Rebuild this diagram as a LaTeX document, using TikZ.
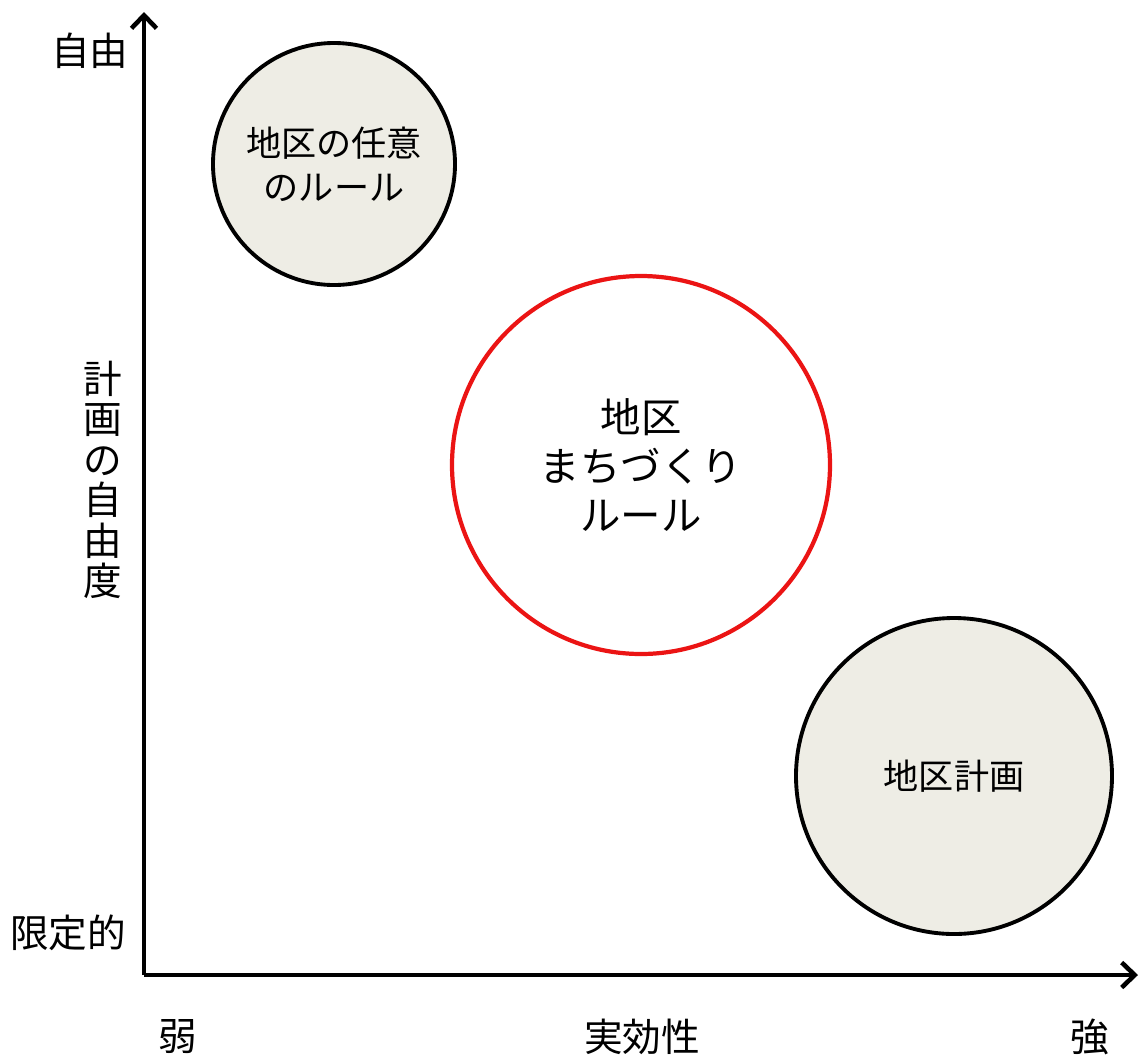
\documentclass[tikz,border=0pt]{standalone}
\usepackage{fontspec}
\setmainfont{Noto Sans CJK JP}
\usetikzlibrary{arrows.meta}
\begin{document}
\begin{tikzpicture}[x=0.02cm, y=-0.02cm, thick]

  % Define Colors
  \definecolor{paper}{RGB}{238,237,229}
  \definecolor{rulered}{RGB}{235,20,20}

  % Node styles
  \tikzstyle{cgray}=[circle, draw, line width=2.2pt, fill=paper, align=center, font=\fontsize{20}{25}\selectfont]
  \tikzstyle{cred}=[circle, draw=rulered, line width=2.4pt, align=center, font=\fontsize{23}{28}\selectfont]
  \tikzstyle{lbl}=[inner sep=0pt, font=\fontsize{22}{23}\selectfont]
  \tikzstyle{axis}=[line width=2.8pt, -{Straight Barb[length=2.6mm, width=5mm, line width=2.6pt]}]

  \useasboundingbox (0,0) rectangle (1140,1056);

  % Axes
  \coordinate (origin) at (144,975);
  \coordinate (y_top) at (144,12);
  \coordinate (x_end) at (1138,975);
  \draw[axis] (origin) -- (y_top);
  \draw[axis] (origin) -- (x_end);

  % Circles
  \node[cgray, minimum size=242*0.02cm] (c_free) at (334,164) {地区の任意\\のルール};
  \node[cred, minimum size=378*0.02cm] (c_rule) at (641,465) {地区\\まちづくり\\ルール};
  \node[cgray, minimum size=316*0.02cm] (c_plan) at (954,776) {地区計画};

  % Axis labels
  \node[lbl] (l_free) at (90,51) {自由};
  \node[lbl] (l_limit) at (68,933) {限定的};
  \node[lbl, align=center] (l_degree) at (103,480) {計\\画\\の\\自\\由\\度};
  \node[lbl] (l_weak) at (178,1037) {弱};
  \node[lbl] (l_eff) at (642,1037) {実効性};
  \node[lbl] (l_strong) at (1090,1037) {強};

\end{tikzpicture}
\end{document}
